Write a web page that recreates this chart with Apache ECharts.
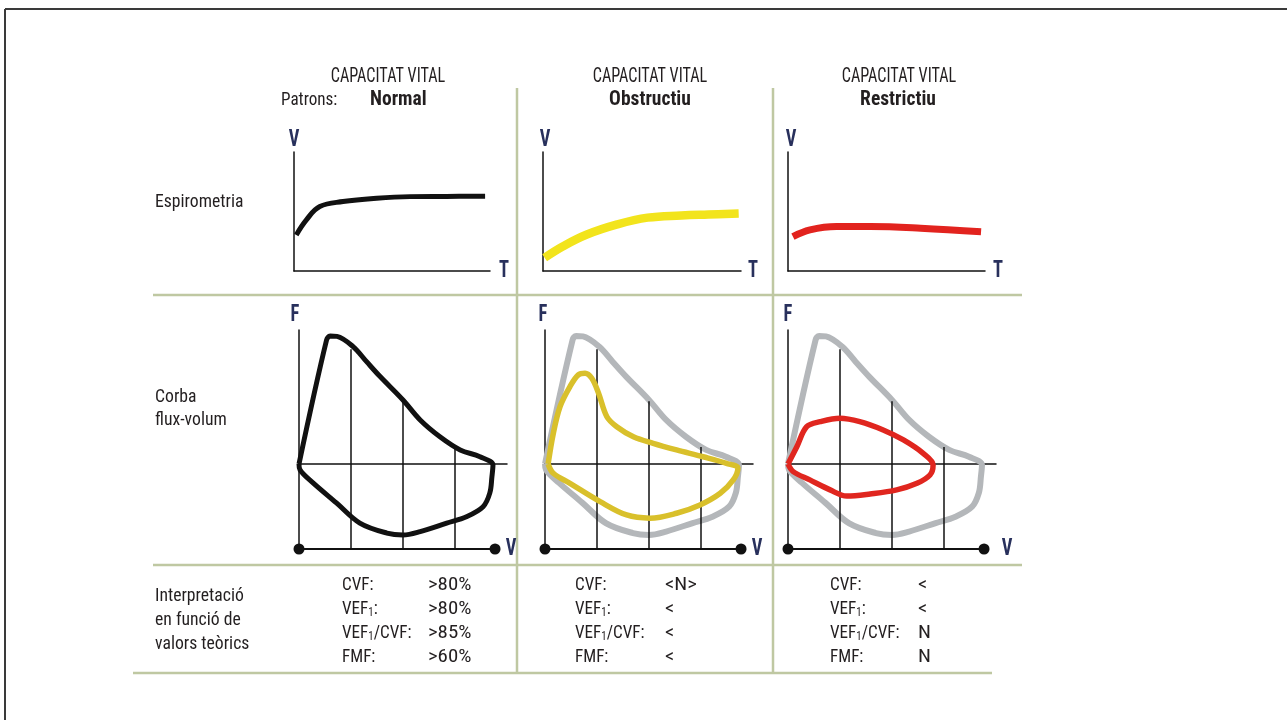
<!DOCTYPE html>
<html><head><meta charset="utf-8">
<script src="https://cdn.jsdelivr.net/npm/echarts@6.0.0/dist/echarts.min.js"></script>
<style>html,body{margin:0;padding:0;background:#fff}#c{width:1287px;height:720px}</style>
</head><body><div id="c"></div>
<script>
// ---------- data ----------
const columnTitle = 'CAPACITAT VITAL';
const patternLabel = 'Patrons:';
const patternNames = ['Normal', 'Obstructiu', 'Restrictiu'];
const rowLabelSpiro = ['Espirometria'];
const rowLabelFlow = ['Corba', 'flux-volum'];
const rowLabelInterp = ['Interpretació', 'en funció de', 'valors teòrics'];
const paramNames = ['CVF:', 'VEF{s|1}:', 'VEF{s|1}/CVF:', 'FMF:'];
const normalValues = ['>80%', '>80%', '>85%', '>60%'];
const obstructiveValues = ['<N>', '<', '<', '<'];
const restrictiveValues = ['<', '<', 'N', 'N'];
const spiroAxisNames = ['V', 'T'];
const flowAxisNames = ['F', 'V'];

// spirometry: [time, volume]
const normalSpiro = [[0.07,1.82],[0.38,2.58],[0.79,3.25],[1.5,3.5],[2.53,3.67],[3.55,3.75],[4.67,3.76],[5.85,3.77]];
const obstructiveSpiro = [[0.05,0.67],[0.61,1.25],[1.33,1.84],[2.25,2.35],[3.17,2.69],[4.19,2.8],[5.01,2.85],[5.93,2.9]];
const restrictiveSpiro = [[0.15,1.73],[0.67,2.07],[1.48,2.24],[2.51,2.24],[4.04,2.16],[5.88,1.98]];

// flow-volume loops: [volume, flow]
const normalLoop = [[0,0],[0.53,5.83],[0.6,6.02],[0.73,6.0],[1.04,5.52],[1.3,4.81],[1.56,4.11],[2.0,3.01],[2.33,2.07],[2.71,1.28],[3.1,0.66],[3.48,0.34],[3.73,-0.05],[3.71,-0.6],[3.67,-1.36],[3.54,-2.01],[3.22,-2.48],[2.84,-2.78],[2.33,-3.18],[2.0,-3.34],[1.69,-3.25],[1.17,-2.78],[0.72,-1.83],[0.27,-0.89],[0.02,-0.28],[0,0]];
const obstructiveLoop = [[0.06,0],[0.16,1.44],[0.29,2.7],[0.48,3.64],[0.64,4.19],[0.77,4.27],[0.9,4.03],[1.03,3.33],[1.19,2.22],[1.38,1.75],[1.7,1.28],[2.08,0.97],[2.53,0.66],[3.04,0.34],[3.49,0.03],[3.71,-0.2],[3.62,-0.75],[3.37,-1.38],[2.98,-1.93],[2.53,-2.32],[2.02,-2.55],[1.57,-2.4],[1.06,-1.77],[0.48,-0.91],[0.16,-0.44],[0.06,0]];
const restrictiveLoop = [[0,0],[0.17,0.81],[0.36,1.75],[0.62,1.99],[1.0,2.15],[1.38,1.99],[1.83,1.6],[2.22,1.13],[2.6,0.5],[2.79,-0.05],[2.73,-0.52],[2.48,-0.91],[2.09,-1.22],[1.58,-1.41],[1.13,-1.51],[0.81,-1.22],[0.42,-0.75],[0.1,-0.36],[0,0]];
const volumeMarks = [1, 2, 3];
const volumeMarkTops = [5.4, 2.95, 0.8];
const volumeAxisEnd = 3.77;
const flowAxisMin = -4;

// ---------- styling / layout ----------
const FONT = "'Liberation Sans Narrow','Roboto Condensed','DejaVu Sans Condensed','Arial Narrow',sans-serif";
const TXT = '#231f20';
const LETTER = '#28305c';
const SEP = '#bfc8a2';
const BLACK = '#111';
const GRAY = '#b4b7ba';
const spiroColors = ['#111111', '#f2e41c', '#e2231e'];
const spiroWidths = [5, 8.5, 7];
const loopColors = ['#111111', '#d9c02b', '#e0261f'];
const spiroData = [normalSpiro, obstructiveSpiro, restrictiveSpiro];
const loopData = [normalLoop, obstructiveLoop, restrictiveLoop];
const valueCols = [normalValues, obstructiveValues, restrictiveValues];

const spiroLeft = [294, 543, 788], spiroWidth = [196, 198, 197];
const flowLeft = [299, 545, 788];
const colCenters = [388, 650, 899];

const grid = [], xAxis = [], yAxis = [], series = [];
const axisBase = { type: 'value', axisTick: { show: false }, axisLabel: { show: false }, splitLine: { show: false } };
for (let i = 0; i < 3; i++) {
  grid.push({ left: spiroLeft[i], top: 152, width: spiroWidth[i], height: 119 });
  xAxis.push(Object.assign({}, axisBase, { gridIndex: i, min: 0, max: 6, axisLine: { show: true, lineStyle: { color: BLACK, width: 1.5 } } }));
  yAxis.push(Object.assign({}, axisBase, { gridIndex: i, min: 0, max: 6, axisLine: { show: true, lineStyle: { color: BLACK, width: 1.5 } } }));
  series.push({ type: 'line', xAxisIndex: i, yAxisIndex: i, data: spiroData[i], smooth: 0.4, showSymbol: false,
    lineStyle: { color: spiroColors[i], width: spiroWidths[i], cap: 'butt' }, z: 4 });
}
for (let i = 0; i < 3; i++) {
  const g = 3 + i;
  grid.push({ left: flowLeft[i], top: 330, width: 208, height: 219 });
  xAxis.push(Object.assign({}, axisBase, { gridIndex: g, min: 0, max: 4, axisLine: { show: true, onZero: true, lineStyle: { color: BLACK, width: 1.5 } } }));
  yAxis.push(Object.assign({}, axisBase, { gridIndex: g, min: flowAxisMin, max: 6.3, axisLine: { show: true, lineStyle: { color: BLACK, width: 1.5 } } }));
  series.push({ type: 'line', xAxisIndex: g, yAxisIndex: g, data: [[0, flowAxisMin], [volumeAxisEnd, flowAxisMin]],
    symbol: 'circle', symbolSize: 11, showSymbol: true, clip: false, itemStyle: { color: BLACK },
    lineStyle: { color: BLACK, width: 2 }, z: 3, silent: true });
  if (i > 0) {
    series.push({ type: 'line', xAxisIndex: g, yAxisIndex: g, data: normalLoop, smooth: 0.35, showSymbol: false,
      lineStyle: { color: GRAY, width: 6 }, z: 2 });
  }
  volumeMarks.forEach((v, k) => {
    series.push({ type: 'line', xAxisIndex: g, yAxisIndex: g, data: [[v, flowAxisMin], [v, volumeMarkTops[k]]],
      showSymbol: false, lineStyle: { color: BLACK, width: 1.5 }, z: 3 });
  });
  series.push({ type: 'line', xAxisIndex: g, yAxisIndex: g, data: loopData[i], smooth: 0.35, showSymbol: false,
    lineStyle: { color: loopColors[i], width: i === 0 ? 5 : 5.5 }, z: 4 });
}

// ---------- graphic: frame, separators, text ----------
const gfx = [];
const line = (x1, y1, x2, y2, stroke, w) => gfx.push({ type: 'line', shape: { x1, y1, x2, y2 }, style: { stroke, lineWidth: w }, silent: true });
const text = (t, x, y, opts, sx) => gfx.push({ type: 'text', x, y, scaleX: sx || 1, silent: true, style: Object.assign({
  text: t, fontFamily: FONT, fontSize: 19, fill: TXT, align: 'left', verticalAlign: 'middle',
  rich: { s: { fontFamily: FONT, fontSize: 12, fill: TXT, verticalAlign: 'bottom', padding: [7, 0, 0, 0] } } }, opts || {}) });

line(5, 9, 1287, 9, '#3a3a3a', 2);
line(5, 9, 5, 720, '#3a3a3a', 2);
line(153, 295, 1022, 295, SEP, 2.5);
line(153, 565, 1022, 565, SEP, 2.5);
line(133, 673, 992, 673, SEP, 2.5);
line(517, 88, 517, 673, SEP, 2.5);
line(773, 88, 773, 673, SEP, 2.5);

for (let i = 0; i < 3; i++) {
  text(columnTitle, colCenters[i], 77, { align: 'center', fontSize: 19.5 }, 0.83);
}
text(patternLabel, 281, 100, {}, 0.9);
text(patternNames[0], 370, 100, { fontSize: 19.5, fontWeight: 'bold' });
text(patternNames[1], 650, 100, { fontSize: 19.5, fontWeight: 'bold', align: 'center' });
text(patternNames[2], 898, 100, { fontSize: 19.5, fontWeight: 'bold', align: 'center' });

rowLabelSpiro.forEach((t, k) => text(t, 155, 202 + k * 24, {}, 0.93));
rowLabelFlow.forEach((t, k) => text(t, 155, 397 + k * 23, {}, 0.93));
rowLabelInterp.forEach((t, k) => text(t, 155, 596 + k * 24, {}, 0.93));

const paramX = [342, 575, 830], valueX = [428, 665, 918];
for (let c = 0; c < 3; c++) {
  paramNames.forEach((p, r) => text(p, paramX[c], 585 + r * 24, {}, 0.9));
  valueCols[c].forEach((v, r) => text(v, valueX[c], 585 + r * 24, {}, 1.1));
}

// axis letters
const spiroV = [294, 545, 791], spiroT = [504, 753, 998];
const flowF = [295, 543, 788], flowV = [511, 757, 1007];
const letter = { align: 'center', fontWeight: 'bold', fill: LETTER, fontSize: 23 };
for (let i = 0; i < 3; i++) {
  text(spiroAxisNames[0], spiroV[i], 140, letter, 0.8);
  text(spiroAxisNames[1], spiroT[i], 271, letter, 0.8);
  text(flowAxisNames[0], flowF[i], 315, letter, 0.8);
  text(flowAxisNames[1], flowV[i], 549, letter, 0.8);
}

const chart = echarts.init(document.getElementById('c'), null, { renderer: 'canvas' });
chart.setOption({ backgroundColor: '#fff', animation: false, grid, xAxis, yAxis, series, graphic: gfx });
</script></body></html>
